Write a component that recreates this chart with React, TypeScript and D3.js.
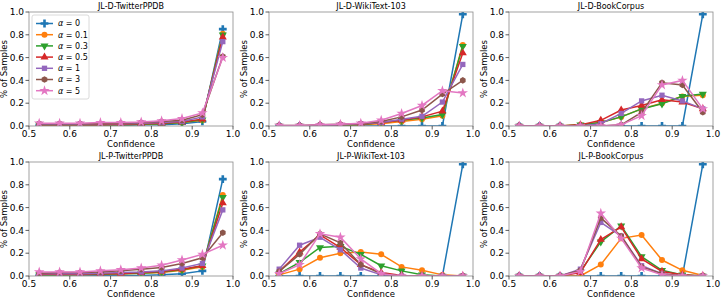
import * as d3 from "d3";

const bins = [0.525, 0.575, 0.625, 0.675, 0.725, 0.775, 0.825, 0.875, 0.925, 0.975];
const alphas = ["0", "0.1", "0.3", "0.5", "1", "3", "5"];
const colors = ["#1f77b4", "#ff7f0e", "#2ca02c", "#d62728", "#9467bd", "#8c564b", "#e377c2"];
const markers = ["plus", "circle", "tridown", "triup", "square", "hexagon", "star"];
const titles = [
  "JL-D-TwitterPPDB",
  "JL-D-WikiText-103",
  "JL-D-BookCorpus",
  "JL-P-TwitterPPDB",
  "JL-P-WikiText-103",
  "JL-P-BookCorpus",
];
const xTicks = [0.5, 0.6, 0.7, 0.8, 0.9, 1.0];
const yTicks = [0, 0.2, 0.4, 0.6, 0.8, 1.0];

const dTwitter = [
  [0.005, 0.005, 0.005, 0.005, 0.005, 0.01, 0.01, 0.02, 0.04, 0.85],
  [0.01, 0.01, 0.01, 0.01, 0.01, 0.015, 0.02, 0.03, 0.05, 0.81],
  [0.01, 0.01, 0.01, 0.01, 0.012, 0.015, 0.02, 0.03, 0.055, 0.8],
  [0.01, 0.01, 0.01, 0.01, 0.015, 0.02, 0.025, 0.035, 0.06, 0.78],
  [0.015, 0.015, 0.015, 0.02, 0.02, 0.025, 0.03, 0.04, 0.08, 0.74],
  [0.02, 0.02, 0.02, 0.02, 0.025, 0.03, 0.04, 0.05, 0.1, 0.61],
  [0.025, 0.025, 0.025, 0.03, 0.03, 0.035, 0.045, 0.065, 0.115, 0.6],
];
const dWiki = [
  [0, 0, 0, 0, 0, 0, 0, 0, 0, 0.98],
  [0, 0, 0, 0.005, 0.01, 0.02, 0.04, 0.06, 0.09, 0.71],
  [0, 0, 0, 0.005, 0.01, 0.03, 0.05, 0.07, 0.1, 0.7],
  [0, 0, 0.005, 0.01, 0.015, 0.03, 0.05, 0.08, 0.13, 0.64],
  [0, 0, 0.005, 0.01, 0.02, 0.03, 0.06, 0.085, 0.21, 0.54],
  [0.005, 0.005, 0.01, 0.015, 0.02, 0.04, 0.08, 0.14, 0.28, 0.4],
  [0.005, 0.005, 0.01, 0.015, 0.025, 0.05, 0.11, 0.18, 0.31, 0.29],
];
const dBook = [
  [0, 0, 0, 0, 0, 0, 0, 0, 0, 0.98],
  [0, 0, 0, 0.01, 0.03, 0.08, 0.15, 0.2, 0.26, 0.27],
  [0, 0, 0, 0.01, 0.03, 0.08, 0.15, 0.195, 0.26, 0.28],
  [0, 0, 0, 0.01, 0.05, 0.14, 0.18, 0.23, 0.21, 0.15],
  [0, 0, 0, 0, 0.02, 0.11, 0.22, 0.27, 0.22, 0.15],
  [0, 0, 0, 0, 0, 0.01, 0.12, 0.38, 0.36, 0.12],
  [0, 0, 0, 0, 0, 0.01, 0.09, 0.36, 0.4, 0.15],
];
const pTwitter = [
  [0.005, 0.005, 0.005, 0.005, 0.005, 0.005, 0.01, 0.02, 0.045, 0.85],
  [0.01, 0.01, 0.01, 0.015, 0.02, 0.025, 0.03, 0.05, 0.08, 0.71],
  [0.01, 0.01, 0.015, 0.015, 0.02, 0.025, 0.035, 0.055, 0.09, 0.69],
  [0.015, 0.015, 0.015, 0.02, 0.02, 0.03, 0.04, 0.06, 0.09, 0.64],
  [0.02, 0.02, 0.02, 0.025, 0.03, 0.035, 0.045, 0.07, 0.11, 0.58],
  [0.025, 0.03, 0.03, 0.035, 0.045, 0.06, 0.075, 0.11, 0.16, 0.38],
  [0.035, 0.035, 0.035, 0.045, 0.055, 0.07, 0.095, 0.14, 0.19, 0.27],
];
const pWiki = [
  [0, 0, 0, 0, 0, 0, 0, 0, 0, 0.98],
  [0.01, 0.06, 0.16, 0.2, 0.21, 0.19, 0.08, 0.05, 0.01, 0],
  [0.02, 0.12, 0.25, 0.26, 0.19, 0.09, 0.045, 0.01, 0, 0],
  [0.04, 0.21, 0.36, 0.25, 0.1, 0.03, 0.005, 0, 0, 0],
  [0.06, 0.27, 0.34, 0.23, 0.07, 0.01, 0, 0, 0, 0],
  [0.04, 0.19, 0.37, 0.29, 0.1, 0.02, 0, 0, 0, 0],
  [0.02, 0.1, 0.37, 0.34, 0.15, 0.02, 0, 0, 0, 0],
];
const pBook = [
  [0, 0, 0, 0, 0, 0, 0, 0, 0, 0.98],
  [0, 0, 0, 0, 0.1, 0.33, 0.36, 0.14, 0.05, 0.005],
  [0, 0, 0, 0.04, 0.3, 0.44, 0.17, 0.05, 0.01, 0],
  [0, 0, 0, 0.03, 0.32, 0.43, 0.15, 0.04, 0.01, 0],
  [0, 0, 0, 0.06, 0.47, 0.35, 0.09, 0.02, 0, 0],
  [0, 0, 0, 0.05, 0.51, 0.35, 0.08, 0.02, 0, 0],
  [0, 0, 0, 0.04, 0.55, 0.33, 0.07, 0.01, 0, 0],
];
const panels = [dTwitter, dWiki, dBook, pTwitter, pWiki, pBook];

const W = 723;
const H = 299;
const colLeft = [29, 269, 509];
const rowTop = [12, 162];
const pw = 204;
const ph = 114;
const font = "DejaVu Sans, sans-serif";

const hexagon: d3.SymbolType = {
  draw(ctx, size) {
    const r = Math.sqrt((size * 2) / (3 * Math.sqrt(3)));
    for (let i = 0; i < 6; i++) {
      const a = (Math.PI / 3) * i - Math.PI / 2;
      const x = r * Math.cos(a);
      const y = r * Math.sin(a);
      if (i === 0) ctx.moveTo(x, y);
      else ctx.lineTo(x, y);
    }
    ctx.closePath();
  },
};

function markerPath(kind: string) {
  const size = 28;
  switch (kind) {
    case "plus":
      return { d: d3.symbol(d3.symbolCross, 34)()!, rot: 0 };
    case "circle":
      return { d: d3.symbol(d3.symbolCircle, size)()!, rot: 0 };
    case "tridown":
      return { d: d3.symbol(d3.symbolTriangle, size)()!, rot: 180 };
    case "triup":
      return { d: d3.symbol(d3.symbolTriangle, size)()!, rot: 0 };
    case "square":
      return { d: d3.symbol(d3.symbolSquare, size)()!, rot: 0 };
    case "hexagon":
      return { d: d3.symbol(hexagon, size)()!, rot: 0 };
    default:
      return { d: d3.symbol(d3.symbolStar, 34)()!, rot: 0 };
  }
}

function Panel({ idx }: { idx: number }) {
  const left = colLeft[idx % 3];
  const top = rowTop[Math.floor(idx / 3)];
  const x = d3.scaleLinear().domain([0.5, 1.0]).range([0, pw]);
  const y = d3.scaleLinear().domain([0, 1.0]).range([ph, 0]);
  const line = d3
    .line<number>()
    .x((_, i) => x(bins[i]))
    .y((d) => y(d));
  const data = panels[idx];
  const clipId = `clip${idx}`;
  return (
    <g transform={`translate(${left},${top})`}>
      <defs>
        <clipPath id={clipId}>
          <rect x={0} y={0} width={pw} height={ph} />
        </clipPath>
      </defs>
      <g clipPath={`url(#${clipId})`}>
        {data.map((series, s) => {
          const m = markerPath(markers[s]);
          return (
            <g key={s}>
              <path d={line(series)!} fill="none" stroke={colors[s]} strokeWidth={1.5} />
              {series.map((v, i) => (
                <path
                  key={i}
                  d={m.d}
                  transform={`translate(${x(bins[i])},${y(v)}) rotate(${m.rot})`}
                  fill={colors[s]}
                />
              ))}
            </g>
          );
        })}
      </g>
      <rect x={0} y={0} width={pw} height={ph} fill="none" stroke="#8a8a8a" strokeWidth={0.8} />
      {xTicks.map((t) => (
        <g key={t} transform={`translate(${x(t)},${ph})`}>
          <line y2={3.5} stroke="#333" strokeWidth={0.8} />
          <text y={10.5} textAnchor="middle" fontSize={9} fontFamily={font} fill="#000">
            {t.toFixed(1)}
          </text>
        </g>
      ))}
      {yTicks.map((t) => (
        <g key={t} transform={`translate(0,${y(t)})`}>
          <line x2={-3.5} stroke="#333" strokeWidth={0.8} />
          <text x={-5} dy="0.35em" textAnchor="end" fontSize={9} fontFamily={font} fill="#000">
            {t.toFixed(1)}
          </text>
        </g>
      ))}
      <text x={pw / 2} y={ph + 20.5} textAnchor="middle" fontSize={8.5} fontFamily={font}>
        Confidence
      </text>
      <text
        transform={`translate(${-22},${ph / 2}) rotate(-90)`}
        textAnchor="middle"
        fontSize={8.5}
        fontFamily={font}
      >
        % of Samples
      </text>
      <text x={pw / 2} y={-3} textAnchor="middle" fontSize={8} fontFamily={font}>
        {titles[idx]}
      </text>
      {idx === 0 && <Legend />}
    </g>
  );
}

function Legend() {
  const lx = 3;
  const ly = 3;
  const rowH = 11.2;
  return (
    <g transform={`translate(${lx},${ly})`}>
      <rect x={0} y={0} width={57} height={84} rx={2} fill="#fff" fillOpacity={0.85} stroke="#d0d0d0" strokeWidth={0.8} />
      {alphas.map((a, s) => {
        const m = markerPath(markers[s]);
        const cy = 8.5 + s * rowH;
        return (
          <g key={a}>
            <line x1={4} x2={21} y1={cy} y2={cy} stroke={colors[s]} strokeWidth={1.5} />
            <path d={m.d} transform={`translate(12.5,${cy}) rotate(${m.rot})`} fill={colors[s]} />
            <text x={26} y={cy} dy="0.35em" fontSize={8} fontFamily={font}>
              <tspan fontStyle="italic">α</tspan>
              <tspan>{` = ${a}`}</tspan>
            </text>
          </g>
        );
      })}
    </g>
  );
}

export default function App() {
  return (
    <svg width={W} height={H} style={{ position: "absolute", left: 0, top: 0, background: "#fff" }}>
      {titles.map((_, i) => (
        <Panel key={i} idx={i} />
      ))}
    </svg>
  );
}
